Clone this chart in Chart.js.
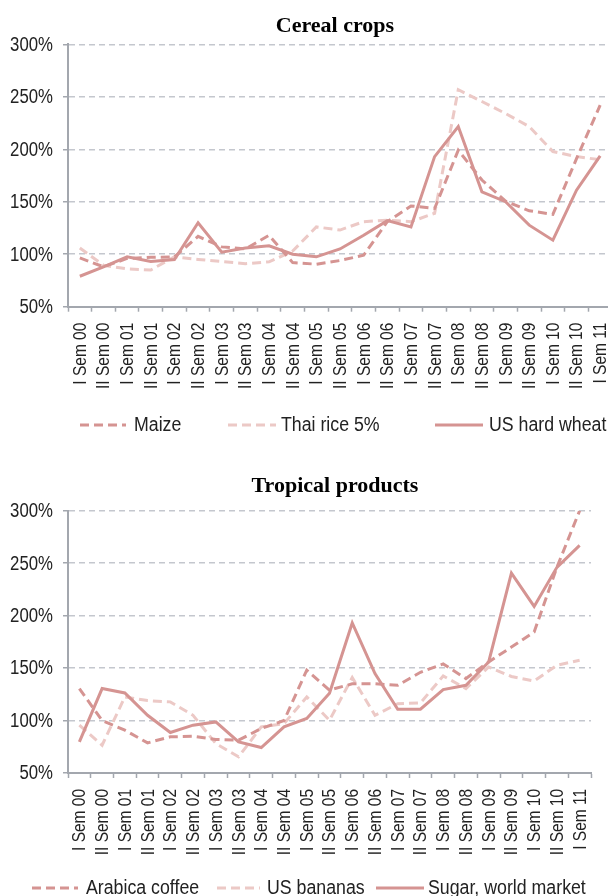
<!DOCTYPE html>
<html>
<head>
<meta charset="utf-8">
<script src="https://cdn.jsdelivr.net/npm/chart.js@4.4.1/dist/chart.umd.min.js"></script>
<style>
html, body { margin: 0; padding: 0; background: #fff; overflow: hidden; width: 608px; height: 896px; }
#wrapTop { position: absolute; left: 0; top: 0; width: 620px; height: 445px; }
#wrapBottom { position: absolute; left: 0; top: 463px; width: 608px; height: 433px; }
</style>
</head>
<body>
<div id="wrapTop"><canvas id="cerealChart" width="620" height="445"></canvas></div>
<div id="wrapBottom"><canvas id="tropicalChart" width="608" height="433"></canvas></div>
<script>
// semesters 2000 - 2011
const semesters = [
    'I Sem 00', 'II Sem 00', 'I Sem 01', 'II Sem 01', 'I Sem 02', 'II Sem 02',
    'I Sem 03', 'II Sem 03', 'I Sem 04', 'II Sem 04', 'I Sem 05', 'II Sem 05',
    'I Sem 06', 'II Sem 06', 'I Sem 07', 'II Sem 07', 'I Sem 08', 'II Sem 08',
    'I Sem 09', 'II Sem 09', 'I Sem 10', 'II Sem 10', 'I Sem 11'
];

// Cereal crops (%)
const maize = [96.5, 88, 96, 97, 97.5, 117, 107, 105, 118, 92, 90.5, 94, 99, 131, 146, 143.6, 199, 170.7, 150.6, 141.4, 138, 191, 242];
const thaiRice = [106, 89.5, 86, 85, 97.5, 95, 93, 91, 92.7, 103, 126, 123, 131, 132.5, 131, 139, 256.7, 245.5, 234, 221.6, 197.8, 193, 190];
const usWheat = [79, 88, 97.5, 93, 95, 130, 102, 106, 108, 100, 97.5, 105, 118, 132, 126, 193, 221.7, 159.5, 150, 127.7, 113.4, 161, 193.6];

// Tropical products (%)
const arabicaCoffee = [130.5, 100, 90.8, 78.7, 84.5, 85, 82, 81.3, 92.4, 100, 148, 129, 135, 135, 133.6, 146, 154, 140, 155.8, 170, 184.4, 246, 300];
const usBananas = [95.6, 76.5, 122.5, 119, 117.8, 105, 78, 65.4, 94, 97, 122.5, 100.3, 141, 105, 116, 116.8, 142.5, 130.5, 151, 142, 137.7, 152.7, 157.4];
const sugarWorld = [79.7, 130.5, 126.3, 105, 88.6, 95.6, 98.7, 79.7, 74.3, 94, 102, 126, 193, 144.7, 110.8, 110.8, 129.5, 133.6, 155.8, 240.5, 208.8, 246, 267];

const yMin = 50;
const yMax = 300;
const yStep = 50;

const DARK = '#d59492';
const LIGHT = '#ecc9c6';
const AXIS = '#a3a7ae';
const GRID = '#c4c7ce';
const TEXT = '#222222';
const SANS = '"Liberation Sans", Arial, sans-serif';

// no narrow font installed: squeeze Liberation Sans horizontally instead
const narrowText = (ctx, text, x, y, rot, sx) => {
    ctx.save();
    ctx.translate(x, y);
    if (rot) ctx.rotate(rot);
    ctx.scale(sx, 1);
    ctx.fillText(text, 0, 0);
    ctx.restore();
};

// title, tick labels and legend drawn on the canvas
const decorPlugin = {
    id: 'decor',
    afterDraw(chart, args, opts) {
        const ctx = chart.ctx;
        const xs = chart.scales.x;
        const ys = chart.scales.y;
        ctx.save();

        ctx.fillStyle = '#000';
        ctx.font = 'bold 22px "Liberation Serif", "Times New Roman", serif';
        ctx.textAlign = 'center';
        ctx.textBaseline = 'alphabetic';
        ctx.fillText(opts.title, opts.titleX, opts.titleY);

        ctx.fillStyle = TEXT;

        // y tick labels
        ctx.font = '19.5px ' + SANS;
        ctx.textAlign = 'right';
        ctx.textBaseline = 'middle';
        ys.ticks.forEach((t) => {
            narrowText(ctx, t.value + '%', xs.left - 15, ys.getPixelForValue(t.value) + 1, 0, 0.86);
        });

        // x tick labels, rotated
        ctx.font = '18px ' + SANS;
        ctx.textAlign = 'right';
        ctx.textBaseline = 'middle';
        xs.ticks.forEach((t, i) => {
            narrowText(ctx, chart.data.labels[i], xs.getPixelForTick(i) + 1, ys.bottom + 16, -Math.PI / 2, 0.86);
        });

        // legend
        ctx.font = '19.5px ' + SANS;
        ctx.textAlign = 'left';
        ctx.textBaseline = 'middle';
        chart.data.datasets.forEach((ds, i) => {
            const p = opts.legendPos[i];
            ctx.beginPath();
            ctx.strokeStyle = ds.borderColor;
            ctx.lineWidth = 3;
            ctx.setLineDash(ds.borderDash || []);
            ctx.moveTo(p[0], opts.legendY);
            ctx.lineTo(p[1], opts.legendY);
            ctx.stroke();
            ctx.setLineDash([]);
            narrowText(ctx, ds.label, p[2], opts.legendY + 1, 0, 0.91);
        });
        ctx.restore();
    }
};

const makeSeries = (label, data, color, dashed, order) => ({
    label: label,
    data: data,
    borderColor: color,
    backgroundColor: color,
    borderWidth: 3,
    borderDash: dashed ? [9, 5] : [],
    pointRadius: 0,
    tension: 0,
    fill: false,
    order: order
});

const makeOptions = (cfg) => ({
    responsive: false,
    animation: false,
    layout: { padding: { top: cfg.top, right: cfg.right, left: 0, bottom: 0 } },
    plugins: {
        legend: { display: false },
        title: { display: false },
        tooltip: { enabled: false },
        decor: cfg.decor
    },
    scales: {
        x: {
            offset: true,
            afterFit: (scale) => { scale.height = cfg.xHeight; },
            grid: { drawOnChartArea: false, drawTicks: true, tickLength: 5, tickColor: AXIS, tickWidth: 1.5, offset: true },
            border: { display: true, color: AXIS, width: 2 },
            ticks: { autoSkip: false, display: false }
        },
        y: {
            min: yMin,
            max: yMax,
            afterFit: (scale) => { scale.width = 68; },
            grid: { color: GRID, lineWidth: 1.5, tickLength: 5, tickColor: AXIS, tickWidth: 1.5, tickBorderDash: [] },
            border: { display: true, color: AXIS, width: 2, dash: [6, 4] },
            ticks: { stepSize: yStep, display: false }
        }
    }
});

new Chart(document.getElementById('cerealChart'), {
    type: 'line',
    data: {
        labels: semesters,
        datasets: [
            makeSeries('Maize', maize, DARK, true, 1),
            makeSeries('Thai rice 5%', thaiRice, LIGHT, true, 2),
            makeSeries('US hard wheat', usWheat, DARK, false, 0)
        ]
    },
    options: makeOptions({
        top: 44.3, right: 8, xHeight: 138.3,
        decor: {
            title: 'Cereal crops', titleX: 335, titleY: 32,
            legendY: 425,
            legendPos: [[80, 126, 134], [228, 276, 281], [435, 483, 489]]
        }
    }),
    plugins: [decorPlugin]
});

new Chart(document.getElementById('tropicalChart'), {
    type: 'line',
    data: {
        labels: semesters,
        datasets: [
            makeSeries('Arabica coffee', arabicaCoffee, DARK, true, 1),
            makeSeries('US bananas', usBananas, LIGHT, true, 2),
            makeSeries('Sugar, world market', sugarWorld, DARK, false, 0)
        ]
    },
    options: makeOptions({
        top: 47.7, right: 17, xHeight: 123,
        decor: {
            title: 'Tropical products', titleX: 335, titleY: 29,
            legendY: 425,
            legendPos: [[32, 78, 86], [217, 260, 267], [376, 424, 428]]
        }
    }),
    plugins: [decorPlugin]
});
</script>
</body>
</html>
